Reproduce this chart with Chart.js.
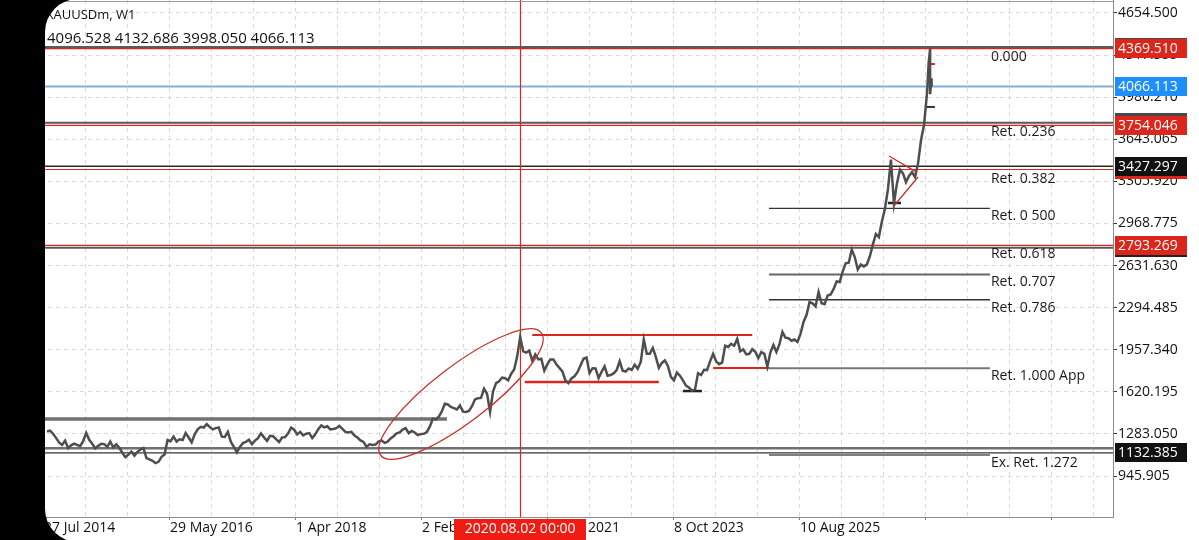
<!DOCTYPE html>
<html>
<head>
<meta charset="utf-8">
<title>XAUUSDm, W1</title>
<script src="https://cdn.jsdelivr.net/npm/chart.js@4.4.1/dist/chart.umd.min.js"></script>
<style>
  html, body { margin: 0; padding: 0; background: #fff; overflow: hidden; }
  #goldChart { display: block; }
</style>
</head>
<body>
<canvas id="goldChart" width="1199" height="540"></canvas>
<script>
const symbolTitle = 'XAUUSDm, W1';
const lastBarOHLC = [4096.528, 4132.686, 3998.050, 4066.113];

// weekly chart, one sample every 2 weeks, week 0 = 27 Jul 2014
const sampleStep = 2;
const closes2014 = [1303, 1310, 1285, 1252, 1215, 1195, 1230, 1170, 1192, 1205, 1196, 1185];
const closes2015 = [1225, 1292, 1236, 1205, 1168, 1188, 1205, 1202, 1180, 1222, 1175, 1200, 1172, 1133, 1098, 1118, 1142, 1110, 1140, 1158, 1170, 1090, 1080, 1068, 1050, 1060];
const closes2016 = [1100, 1118, 1235, 1225, 1262, 1222, 1240, 1235, 1290, 1255, 1215, 1280, 1320, 1340, 1335, 1362, 1338, 1320, 1330, 1335, 1262, 1260, 1300, 1220, 1180, 1135];
const closes2017 = [1180, 1210, 1220, 1237, 1202, 1230, 1250, 1288, 1256, 1228, 1268, 1265, 1242, 1218, 1255, 1258, 1288, 1335, 1318, 1280, 1300, 1272, 1285, 1290, 1250, 1280];
const closes2018 = [1322, 1352, 1336, 1345, 1320, 1323, 1330, 1348, 1324, 1300, 1295, 1300, 1270, 1255, 1232, 1220, 1180, 1200, 1195, 1198, 1222, 1232, 1212, 1222, 1248, 1265];
const closes2019 = [1288, 1295, 1318, 1330, 1290, 1308, 1295, 1275, 1282, 1285, 1298, 1342, 1405, 1400, 1422, 1465, 1525, 1520, 1500, 1490, 1480, 1512, 1462, 1460, 1468, 1505];
const closes2020 = [1560, 1570, 1572, 1645, 1605, 1460, 1625, 1690, 1705, 1735, 1730, 1712, 1765, 1800, 1905, 2060, 1945, 1935, 1950, 1870, 1920, 1880, 1885, 1790, 1840, 1880];
const closes2021 = [1880, 1842, 1812, 1785, 1712, 1690, 1728, 1745, 1778, 1832, 1885, 1895, 1770, 1810, 1808, 1730, 1780, 1825, 1750, 1755, 1768, 1795, 1865, 1790, 1783, 1808];
const closes2022 = [1797, 1838, 1805, 1860, 2040, 1925, 1925, 1972, 1900, 1812, 1852, 1872, 1828, 1740, 1712, 1775, 1750, 1712, 1670, 1655, 1630, 1640, 1770, 1755, 1797, 1795];
const closes2023 = [1865, 1925, 1865, 1842, 1855, 1990, 1980, 2005, 1990, 2045, 1945, 1960, 1920, 1925, 1962, 1942, 1890, 1940, 1925, 1822, 1935, 1995, 1940, 2000, 2100, 2055];
const closes2024 = [2050, 2030, 2040, 2020, 2085, 2180, 2235, 2340, 2330, 2305, 2420, 2330, 2322, 2392, 2400, 2445, 2505, 2500, 2585, 2650, 2655, 2760, 2700, 2600, 2640, 2625];
const closes2025 = [2640, 2705, 2800, 2885, 2860, 2985, 3085, 3240, 3480, 3130, 3290, 3400, 3370, 3300, 3350, 3380, 3340, 3450, 3640, 3760, 4020];
// last weeks read bar by bar (high / low of the last two bars)
const tailWeeks = [585, 586, 586, 587, 587];
const tailPrices = [4250, 4369.5, 4004, 4132.686, 4066.113];

// axes
const xMinWeek = -31.19;
const xMaxWeek = 707.36;
const xFirstTickWeek = -2.0;
const xGridStepWeeks = 27.87;
const xTickLabels = ['27 Jul 2014', '29 May 2016', '1 Apr 2018', '2 Feb 2020', '5 Dec 2021', '8 Oct 2023', '10 Aug 2025'];
const yMin = 618.3;
const yMax = 4758.6;
const yTickValues = [4654.5, 4317.355, 3980.21, 3643.065, 3305.92, 2968.775, 2631.63, 2294.485, 1957.34, 1620.195, 1283.05, 945.905];

// drawn objects (prices / weeks)
const tagPrices = [4369.51, 4066.113, 3754.046, 3427.297, 2793.269, 1132.385];
const markedWeek = 314;
const markedLabel = '2020.08.02 00:00';
const fibHigh = 4369.51;
const fibLow = 1810.5;
const fibRatios = [0, 0.236, 0.382, 0.5, 0.618, 0.707, 0.786, 1.0, 1.272];
const fibLabels = ['0.000', 'Ret. 0.236', 'Ret. 0.382', 'Ret. 0 500', 'Ret. 0.618', 'Ret. 0.707', 'Ret. 0.786', 'Ret. 1.000 App', 'Ex. Ret. 1.272'];
const fibFromWeek = 479.1;
const fibToWeek = 625.7;

const FONT = "'Open Sans', 'DejaVu Sans', sans-serif";
const RED = '#dc261c';

const allCloses = [].concat(closes2014, closes2015, closes2016, closes2017, closes2018, closes2019,
  closes2020, closes2021, closes2022, closes2023, closes2024, closes2025);
const priceSeries = allCloses.map((v, i) => ({ x: i * sampleStep, y: v }));
tailWeeks.forEach((w, i) => priceSeries.push({ x: w, y: tailPrices[i] }));

function hline(ctx, x1, x2, y, color, width) {
  ctx.strokeStyle = color;
  ctx.lineWidth = width;
  ctx.beginPath();
  ctx.moveTo(x1, y);
  ctx.lineTo(x2, y);
  ctx.stroke();
}

function tag(ctx, x, yc, bg, text) {
  ctx.fillStyle = bg;
  ctx.fillRect(x, Math.round(yc - 9.5), 72, 19);
  if (!text) return;
  ctx.fillStyle = '#fff';
  ctx.font = '14px ' + FONT;
  ctx.textAlign = 'left';
  ctx.textBaseline = 'middle';
  ctx.fillText(text, x + 3, yc + 0.5);
}

const overlays = {
  id: 'overlays',
  beforeDatasetsDraw(chart) {
    const { ctx, chartArea: a, scales: { x, y } } = chart;
    ctx.save();
    ctx.beginPath();
    ctx.rect(a.left, a.top, a.right - a.left, a.bottom - a.top);
    ctx.clip();

    // full width horizontal lines
    const full = [
      [4382, '#5a5a5a', 2], [4369.51, RED, 1.2],
      [4066.113, '#80b0da', 2],
      [3775, '#5a5a5a', 2], [3754.046, RED, 1.2],
      [3427.297, '#2a2a2a', 1.3], [3401, RED, 1.2],
      [2793.269, RED, 1.2], [2775, '#5a5a5a', 2],
      [1168, '#707070', 2.5], [1132.385, '#333', 1.3]
    ];
    full.forEach(l => hline(ctx, a.left, a.right, y.getPixelForValue(l[0]), l[1], l[2]));

    // short support / resistance segments
    const segs = [
      [-40, 265.4, 1403, '#717171', 3.5],
      [322, 468, 2075, RED, 2],
      [317, 406, 1699, RED, 2.5],
      [422, 434.6, 1627, '#222', 2.5],
      [442, 479.5, 1811.5, RED, 2],
      [558, 566.7, 3133, '#222', 2.5],
      [584.6, 589.2, 4246, RED, 2],
      [582.6, 589.2, 3902, '#333', 2]
    ];
    segs.forEach(s => hline(ctx, x.getPixelForValue(s[0]), x.getPixelForValue(s[1]), y.getPixelForValue(s[2]), s[3], s[4]));

    // fibonacci short lines
    const fibStyle = { 0.5: ['#333', 1.2], 0.707: ['#666', 2], 0.786: ['#333', 1.3], 1: ['#777', 2], 1.272: ['#555', 1.6] };
    fibRatios.forEach(r => {
      if (!fibStyle[r]) return;
      const py = y.getPixelForValue(fibHigh - r * (fibHigh - fibLow));
      hline(ctx, x.getPixelForValue(fibFromWeek), x.getPixelForValue(fibToWeek), py, fibStyle[r][0], fibStyle[r][1]);
    });

    // vertical marker
    const vx = Math.round(x.getPixelForValue(markedWeek)) + 0.5;
    ctx.strokeStyle = RED;
    ctx.lineWidth = 1.2;
    ctx.beginPath();
    ctx.moveTo(vx, a.top);
    ctx.lineTo(vx, a.bottom);
    ctx.stroke();
    ctx.restore();
  },
  afterDatasetsDraw(chart) {
    const { ctx, chartArea: a, scales: { x, y } } = chart;
    ctx.save();
    ctx.strokeStyle = '#c8302a';
    ctx.lineWidth = 1.3;
    // ellipse round the 2019-2020 run
    ctx.beginPath();
    ctx.ellipse(x.getPixelForValue(274.7), y.getPixelForValue(1603), 101, 28, -37.3 * Math.PI / 180, 0, Math.PI * 2);
    ctx.stroke();
    // pennant
    const tri = [[558.7, 3509, 577.3, 3378], [561.4, 3101, 578, 3341]];
    tri.forEach(t => {
      ctx.beginPath();
      ctx.moveTo(x.getPixelForValue(t[0]), y.getPixelForValue(t[1]));
      ctx.lineTo(x.getPixelForValue(t[2]), y.getPixelForValue(t[3]));
      ctx.stroke();
    });

    // fib labels
    ctx.fillStyle = '#1a1a1a';
    ctx.font = '14px ' + FONT;
    ctx.textAlign = 'left';
    ctx.textBaseline = 'middle';
    const lx = x.getPixelForValue(fibToWeek) + 1;
    fibRatios.forEach((r, i) => {
      const py = y.getPixelForValue(fibHigh - r * (fibHigh - fibLow));
      ctx.fillText(fibLabels[i], lx, py + 8);
    });

    // header
    ctx.fillStyle = '#111';
    ctx.font = '13px ' + FONT;
    ctx.fillText(symbolTitle, 46, 15);
    ctx.font = '15px ' + FONT;
    ctx.fillText(lastBarOHLC.map(v => v.toFixed(3)).join(' '), 47, 39);
    ctx.restore();
  },
  afterDraw(chart) {
    const { ctx, chartArea: a, scales: { x, y } } = chart;
    const W = chart.width, H = chart.height;
    ctx.save();
    // top border
    hline(ctx, a.left, a.right, 1.5, '#999', 1);

    // price tags on the axis
    const tx = a.right + 2;
    [[4382, '#4a4a4a'], [3775, '#4a4a4a'], [3401, RED], [2775, '#222']].forEach(b => tag(ctx, tx, y.getPixelForValue(b[0]), b[1], ''));
    const tagColors = [RED, '#1e8fff', RED, '#111', RED, '#111'];
    tagPrices.forEach((p, i) => tag(ctx, tx, y.getPixelForValue(p), tagColors[i], p.toFixed(3)));

    // date tag under the vertical marker
    const vx = x.getPixelForValue(markedWeek);
    ctx.fillStyle = '#ee1c12';
    ctx.fillRect(Math.round(vx - 66), a.bottom + 2, 132, 21);
    ctx.fillStyle = '#fff';
    ctx.font = '14px ' + FONT;
    ctx.textAlign = 'center';
    ctx.textBaseline = 'middle';
    ctx.fillText(markedLabel, vx, a.bottom + 12.5);

    // phone screen edge
    const L = 45, r = 33;
    ctx.fillStyle = '#000';
    ctx.beginPath();
    ctx.rect(0, 0, W, H);
    ctx.moveTo(L + r, -1);
    ctx.lineTo(W + 20, -1);
    ctx.lineTo(W + 20, H + 2);
    ctx.lineTo(L + r, H + 2);
    ctx.arcTo(L, H + 2, L, H + 2 - r, r);
    ctx.lineTo(L, -1 + r);
    ctx.arcTo(L, -1, L + r, -1, r);
    ctx.closePath();
    ctx.fill('evenodd');
    ctx.restore();
  }
};

new Chart(document.getElementById('goldChart'), {
  type: 'line',
  data: {
    datasets: [{
      label: 'XAUUSDm',
      data: priceSeries,
      borderColor: '#4e4e4e',
      borderWidth: 2.5,
      pointRadius: 0,
      tension: 0
    }]
  },
  options: {
    responsive: false,
    animation: false,
    devicePixelRatio: 1,
    events: [],
    layout: { padding: 0, autoPadding: false },
    plugins: { legend: { display: false }, tooltip: { enabled: false } },
    scales: {
      x: {
        type: 'linear',
        min: xMinWeek,
        max: xMaxWeek,
        afterBuildTicks: scale => {
          const ticks = [];
          for (let w = xFirstTickWeek; w <= xMaxWeek; w += xGridStepWeeks) ticks.push({ value: w });
          scale.ticks = ticks;
        },
        afterFit: scale => { scale.height = 23; scale.paddingLeft = 0; scale.paddingRight = 0; },
        grid: {
          color: '#d9d9d9',
          lineWidth: 1,
          tickLength: 3,
          tickColor: c => (c.index % 3 === 0 ? '#777' : 'rgba(0,0,0,0)')
        },
        border: { display: true, color: '#8c8c8c', width: 1, dash: [4, 4] },
        ticks: {
          align: 'start',
          autoSkip: false,
          maxRotation: 0,
          minRotation: 0,
          padding: 0,
          color: '#111',
          font: { family: FONT, size: 14 },
          callback: (v, i) => (i % 3 === 0 && xTickLabels[i / 3]) || ''
        }
      },
      y: {
        type: 'linear',
        position: 'right',
        min: yMin,
        max: yMax,
        afterBuildTicks: scale => { scale.ticks = yTickValues.map(v => ({ value: v })); },
        afterFit: scale => { scale.width = 86; scale.paddingTop = 0; scale.paddingBottom = 0; },
        grid: { color: '#d9d9d9', lineWidth: 1, tickLength: 4, tickColor: '#333' },
        border: { display: true, color: '#8c8c8c', width: 1, dash: [4, 4] },
        ticks: {
          padding: 1,
          color: '#111',
          font: { family: FONT, size: 14 },
          callback: v => v.toFixed(3)
        }
      }
    }
  },
  plugins: [overlays]
});
</script>
</body>
</html>
